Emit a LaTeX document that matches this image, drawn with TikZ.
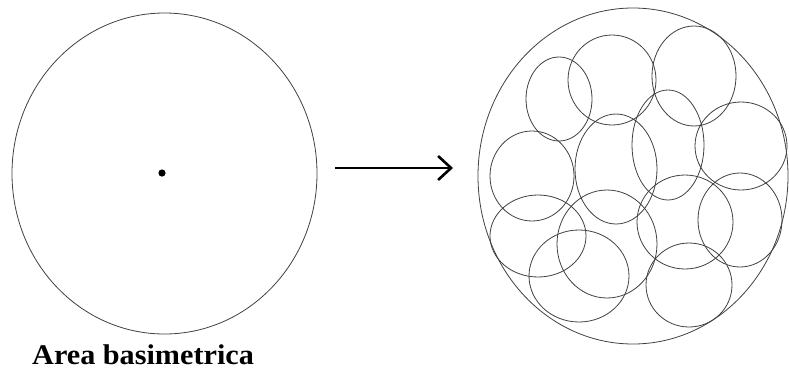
\documentclass[tikz,border=0pt]{standalone}
\usepackage{fontspec}
\setmainfont{Liberation Serif}
\usetikzlibrary{shapes.geometric,arrows.meta}
\tikzset{
  ring/.style={ellipse, draw=black!75, line width=0.8pt, inner sep=0pt},
  bigarrow/.style={line width=2.6pt, -{Straight Barb[length=13pt,width=24pt]}},
  caption/.style={font=\bfseries\fontsize{28.5}{31}\selectfont, inner sep=0pt, anchor=base west, xscale=1.06, transform shape}
}
\newcommand{\ringat}[5]{\node[ring, minimum width=#4pt, minimum height=#5pt] (#1) at (#2,#3) {};}
\begin{document}
\begin{tikzpicture}[x=1pt,y=-1pt]
\useasboundingbox (0,0) rectangle (789,370);
% left circle
\ringat{left}{164.5}{173.5}{305}{321}
\fill (162,173) circle (3.6pt);
% arrow
\coordinate (a1) at (335,168);
\coordinate (a2) at (453,168);
\draw[bigarrow] (a1) -- (a2);
% right outer circle
\ringat{outer}{633}{176}{310}{336}
% inner circles
\ringat{c1}{559}{99}{66}{84}
\ringat{c2}{612}{80}{88}{90}
\ringat{c3}{694}{76}{84}{100}
\ringat{c4}{741}{146}{92}{88}
\ringat{c5}{668}{145}{72}{110}
\ringat{c6}{616}{169}{82}{110}
\ringat{c7}{532}{176}{84}{90}
\ringat{c8}{538}{236}{96}{82}
\ringat{c9}{579}{276}{100}{92}
\ringat{c10}{607}{244}{100}{108}
\ringat{c11}{685}{222}{96}{94}
\ringat{c12}{740}{220}{84}{94}
\ringat{c13}{689}{285}{86}{84}
% caption
\node[caption] (cap) at (32,364.5) {Area basimetrica};
\end{tikzpicture}
\end{document}
